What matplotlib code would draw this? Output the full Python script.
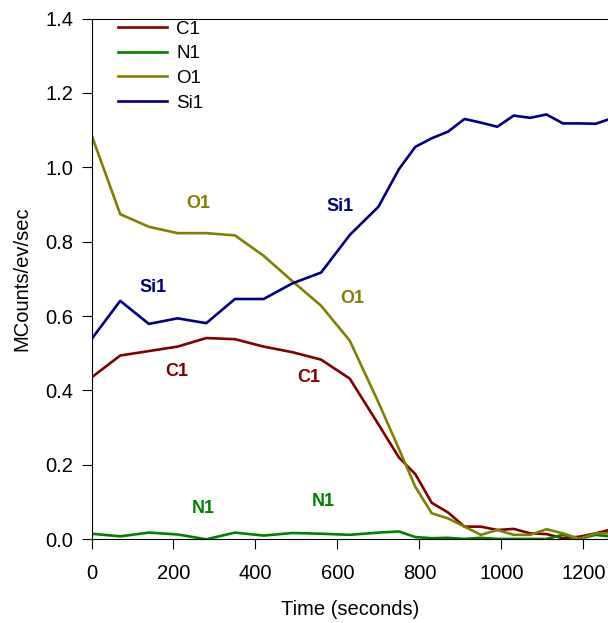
import matplotlib
matplotlib.use("Agg")
import matplotlib.pyplot as plt

plt.rcParams['font.family'] = ['Liberation Sans', 'DejaVu Sans']

time_s = [0, 70, 140, 210, 280, 350, 420, 490, 560, 630, 700, 750, 790, 830,
          870, 910, 950, 990, 1030, 1070, 1110, 1150, 1190, 1230, 1270]
c1 = [0.435, 0.494, 0.506, 0.518, 0.541, 0.538, 0.518, 0.503, 0.483, 0.432, 0.309,
      0.220, 0.175, 0.098, 0.072, 0.034, 0.034, 0.025, 0.028, 0.016, 0.014, 0.003,
      0.007, 0.016, 0.027]
n1 = [0.015, 0.008, 0.018, 0.013, 0.0, 0.018, 0.010, 0.017, 0.015, 0.012, 0.018,
      0.021, 0.006, 0.003, 0.004, 0.001, 0.004, 0.001, 0.001, 0.001, 0.001, 0.012,
      0.001, 0.012, 0.007]
o1 = [1.087, 0.874, 0.840, 0.823, 0.823, 0.817, 0.762, 0.694, 0.628, 0.534, 0.368,
      0.243, 0.141, 0.070, 0.056, 0.034, 0.012, 0.025, 0.012, 0.012, 0.027, 0.016,
      0.001, 0.016, 0.016]
si1 = [0.538, 0.641, 0.579, 0.594, 0.581, 0.646, 0.646, 0.688, 0.717, 0.818, 0.894,
       0.995, 1.055, 1.078, 1.096, 1.130, 1.120, 1.109, 1.139, 1.133, 1.142, 1.118,
       1.118, 1.117, 1.132]

series_names = ["C1", "N1", "O1", "Si1"]
series_values = [c1, n1, o1, si1]
series_colors = ["#800000", "#008000", "#808000", "#000080"]

x_ticks = [0, 200, 400, 600, 800, 1000, 1200]
y_ticks = [0.0, 0.2, 0.4, 0.6, 0.8, 1.0, 1.2, 1.4]

# in-plot annotations: (text, x, y, series index)
annotations = [
    ("O1", 260, 0.902, 2), ("Si1", 150, 0.676, 3), ("C1", 208, 0.450, 0),
    ("N1", 272, 0.082, 1), ("Si1", 606, 0.894, 3), ("O1", 635, 0.646, 2),
    ("C1", 530, 0.436, 0), ("N1", 565, 0.101, 1),
]

fig = plt.figure(figsize=(6.08, 6.23), dpi=100)
ax = fig.add_axes([91.5 / 608, 1 - 539.3 / 623, 1 - 91.5 / 608, (539.3 - 18.5) / 623])

for name, vals, col in zip(series_names, series_values, series_colors):
    ax.plot(time_s, vals, color=col, lw=1.9, label=name, clip_on=True)

for txt, x, y, i in annotations:
    ax.text(x, y, txt, color=series_colors[i], fontsize=13, fontweight='bold',
            ha='center', va='center')

ax.set_xlim(0, 1260)
ax.set_ylim(0, 1.4)
ax.set_xticks(x_ticks)
ax.set_xticklabels([str(t) for t in x_ticks])
ax.set_yticks(y_ticks)
ax.set_yticklabels([f"{v:.1f}" for v in y_ticks])
ax.tick_params(direction='out', length=7.2, width=0.8, labelsize=14.5, color='black')
ax.tick_params(axis='x', pad=10.5)
ax.tick_params(axis='y', pad=6)
ax.spines['right'].set_visible(False)
for s in ['left', 'top', 'bottom']:
    ax.spines[s].set_linewidth(0.8)
    ax.spines[s].set_color('black')

ax.set_xlabel("Time (seconds)", fontsize=14.5, labelpad=12)
ax.set_ylabel("MCounts/ev/sec", fontsize=14.5, labelpad=10)

leg = ax.legend(loc='upper left', bbox_to_anchor=(26.5 / 516.5, 1.0 - 2.0 / 520.8),
                frameon=False, fontsize=13.5, handlelength=2.6, handletextpad=0.5,
                labelspacing=0.40, borderpad=0.0, borderaxespad=0.0)

fig.savefig("out.png", dpi=100)
